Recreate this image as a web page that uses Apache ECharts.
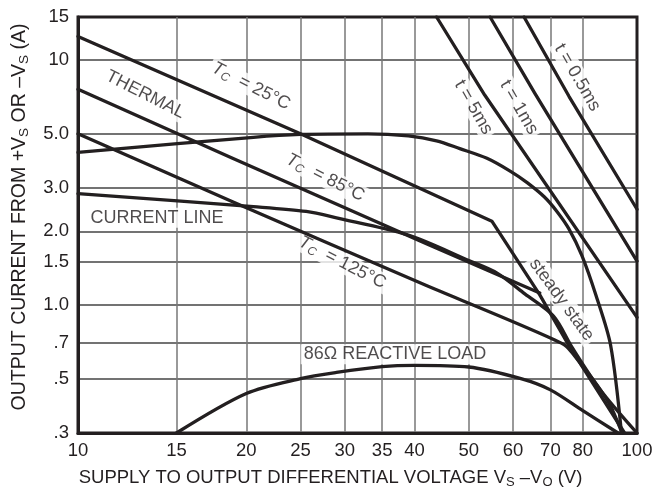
<!DOCTYPE html>
<html><head><meta charset="utf-8">
<script src="https://cdn.jsdelivr.net/npm/echarts@6/dist/echarts.min.js"></script>
<style>html,body{margin:0;padding:0;background:#fff}#c{width:655px;height:487px}</style>
</head><body><div id="c"></div>
<script>
// ---- axis ticks ----
const xTickValues = [10, 15, 20, 25, 30, 35, 40, 50, 60, 70, 80, 100];
const xTickLabels = ['10', '15', '20', '25', '30', '35', '40', '50', '60', '70', '80', '100'];
const yTickValues = [0.3, 0.5, 0.7, 1, 1.5, 2, 3, 5, 10, 15];
const yTickLabels = ['.3', '.5', '.7', '1.0', '1.5', '2.0', '3.0', '5.0', '10', '15'];

// ---- curves (V, A) ----
const tc25V = [10, 25, 55, 67, 75.6, 95];
const tc25I = [12.5, 5.0, 2.2, 1.1, 0.68, 0.3];
const tc85V = [10, 18.9, 42, 67];
const tc85I = [7.6, 3.97, 1.78, 1.12];
const tc125V = [10, 18.9, 42, 74, 80, 86, 90, 94];
const tc125I = [5.0, 2.64, 1.2, 0.69, 0.56, 0.45, 0.38, 0.3];
const limitV = [10, 20.6, 25, 33, 39, 43.8, 48.2, 53.9, 59.3, 63.6, 68.3, 71.9, 75.5, 79.7, 84.5, 89.7, 93.8];
const limitI = [4.2, 4.84, 4.97, 5.0, 4.9, 4.68, 4.35, 3.97, 3.52, 3.16, 2.76, 2.41, 2.05, 1.59, 1.09, 0.685, 0.3];
const lineV = [10, 20.6, 25.6, 29, 39, 50, 56.2, 63, 70.9, 76.7, 86, 100];
const lineI = [2.85, 2.52, 2.41, 2.27, 1.93, 1.52, 1.35, 1.11, 0.9, 0.666, 0.45, 0.3];
const reactV = [15, 20, 25, 29, 35, 40, 50, 62, 70, 80, 92.5];
const reactI = [0.3, 0.435, 0.5, 0.53, 0.56, 0.567, 0.558, 0.5, 0.45, 0.37, 0.3];
const p5V = [43.8, 53.4, 100];
const p5I = [15, 7.2, 0.89];
const p1V = [54.6, 65.7, 100];
const p1I = [15, 7.3, 1.51];
const p05V = [62.8, 75.6, 100];
const p05I = [15, 7.1, 2.46];

// ---- annotation texts ----
const noteTexts = [
  '{i|T}{s|C}{n|  = 25°C}', '{n|THERMAL}', '{i|T}{s|C}{n|  = 85°C}', '{i|T}{s|C}{n|  = 125°C}',
  '{n|CURRENT LINE}', '{n|86Ω REACTIVE LOAD}', '{n|t = 5ms}', '{n|t = 1ms}', '{n|t = 0.5ms}', '{n|steady state}'
];
const noteV = [20.4, 13.2, 27.7, 29.7, 13.85, 36.9, 51.0, 61.5, 78.2, 73.3];
const noteI = [7.83, 7.23, 3.31, 1.49, 2.27, 0.629, 6.41, 6.41, 8.49, 1.05];
const noteRot = [-27, -27, -27, -27, 0, 0, -60, -60, -60, -54];

const FONT = '"Liberation Sans", Arial, Helvetica, sans-serif';
const INK = '#231f20';
const L = Math.log10;
const pts = (V, I) => V.map((v, k) => [L(v), L(I[k])]);
function nearest(vals, labels, lv) {
  let best = 0, d = 1e9;
  vals.forEach((v, k) => { const dd = Math.abs(L(v) - lv); if (dd < d) { d = dd; best = k; } });
  return labels[best];
}
const curve = (name, V, I, smooth) => ({
  type: 'line', name, data: pts(V, I), symbol: 'none', showSymbol: false, z: 3,
  smooth: smooth || false, silent: true,
  lineStyle: { color: INK, width: 3.3, cap: 'round', join: 'round' }
});
const rich = {
  n: { fontFamily: FONT, fontSize: 18, color: INK, lineHeight: 20 },
  i: { fontFamily: FONT, fontSize: 18, color: INK, fontStyle: 'italic', lineHeight: 20 },
  s: { fontFamily: FONT, fontSize: 12, color: INK, fontStyle: 'italic', lineHeight: 12, verticalAlign: 'bottom' }
};
const nameRich = {
  n: { fontFamily: FONT, fontSize: 18.5, color: INK, lineHeight: 22 },
  s: { fontFamily: FONT, fontSize: 13, color: INK, lineHeight: 13, verticalAlign: 'bottom' }
};
const nameRichY = {
  n: { fontFamily: FONT, fontSize: 19.5, color: INK, lineHeight: 22 },
  s: { fontFamily: FONT, fontSize: 13.5, color: INK, lineHeight: 13, verticalAlign: 'bottom' }
};

const chart = echarts.init(document.getElementById('c'));
chart.setOption({
  animation: false,
  backgroundColor: '#fff',
  grid: { left: 78, right: 18, top: 17, bottom: 54, containLabel: false, outerBoundsMode: 'none',
    show: true, borderColor: INK, borderWidth: 3, backgroundColor: 'transparent' },
  xAxis: {
    type: 'value', min: L(10), max: L(100),
    name: '{n|SUPPLY TO OUTPUT DIFFERENTIAL VOLTAGE V}{s|S}{n| –V}{s|O}{n| (V)}',
    nameLocation: 'middle', nameGap: 34,
    nameTextStyle: { rich: nameRich, padding: [0, 54, 0, 0] },
    axisLine: { show: true, onZero: false, lineStyle: { color: INK, width: 3 } },
    axisTick: { show: false, customValues: xTickValues.map(L) },
    axisLabel: { customValues: xTickValues.map(L), formatter: v => nearest(xTickValues, xTickLabels, v),
      fontFamily: FONT, fontSize: 18.5, color: INK, margin: 8 },
    splitLine: { show: true, showMinLine: false, showMaxLine: false, lineStyle: { color: '#777', width: 1.5 } }
  },
  yAxis: {
    type: 'value', min: L(0.3), max: L(15),
    name: '{n|OUTPUT CURRENT FROM +V}{s|S}{n| OR –V}{s|S}{n| (A)}',
    nameLocation: 'middle', nameGap: 47,
    nameTextStyle: { rich: nameRichY, padding: [0, 0, 0, 16] },
    axisLine: { show: true, onZero: false, lineStyle: { color: INK, width: 3 } },
    axisTick: { show: false, customValues: yTickValues.map(L) },
    axisLabel: { customValues: yTickValues.map(L), formatter: v => nearest(yTickValues, yTickLabels, v),
      fontFamily: FONT, fontSize: 18.5, color: INK, margin: 9 },
    splitLine: { show: true, showMinLine: false, showMaxLine: false, lineStyle: { color: '#444', width: 1.5 } }
  },
  series: [
    {
      type: 'scatter', symbolSize: 0, z: 1, silent: true,
      data: noteTexts.map((t, k) => ({
        value: [L(noteV[k]), L(noteI[k])],
        label: { show: true, position: 'inside', formatter: t, rotate: noteRot[k], rich,
          backgroundColor: '#fff', padding: [0, 3] }
      }))
    },
    curve('Tc25', tc25V, tc25I, false),
    curve('Tc85', tc85V, tc85I, false),
    curve('Tc125', tc125V, tc125I, 0.2),
    curve('limit', limitV, limitI, 0.3),
    curve('currentLine', lineV, lineI, 0.3),
    curve('reactive', reactV, reactI, 0.3),
    curve('t5', p5V, p5I, false),
    curve('t1', p1V, p1I, false),
    curve('t05', p05V, p05I, false)
  ]
});
</script></body></html>
